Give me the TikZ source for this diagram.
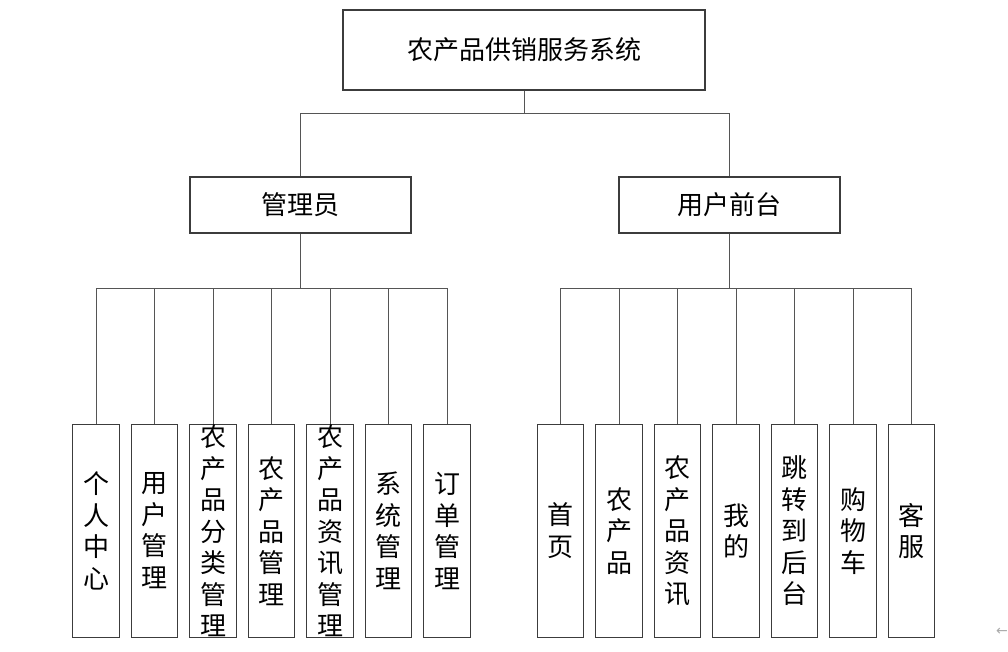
\documentclass[tikz,border=0pt]{standalone}
\usepackage{fontspec}
\setmainfont{Noto Sans CJK SC}
\newfontfamily\symfont{DejaVu Sans}
\definecolor{lc}{RGB}{85,85,85}
\definecolor{bc}{RGB}{60,60,60}
\definecolor{ac}{RGB}{170,170,170}
\tikzset{
  topbox/.style={draw=bc, line width=1.1pt, minimum width=362pt, minimum height=80pt, inner sep=0pt, font=\fontsize{26}{30}\selectfont},
  midbox/.style={draw=bc, line width=1.1pt, minimum width=221pt, minimum height=56pt, inner sep=0pt, font=\fontsize{26}{30}\selectfont},
  leafbox/.style={draw=bc, line width=1.1pt, minimum width=46.7pt, minimum height=213pt, inner sep=0pt},
  leaftext/.style={inner sep=0pt, align=center, font=\fontsize{26}{31.5}\selectfont},
  conn/.style={draw=lc, line width=1pt}
}
\begin{document}
\begin{tikzpicture}[x=1pt,y=-1pt]
\useasboundingbox (0,0) rectangle (1008,652);
\fill[white] (0,0) rectangle (1008,652);

\node[topbox] (top) at (524,50) {农产品供销服务系统};
\node[midbox] (adm) at (300.5,205) {管理员};
\node[midbox] (usr) at (729.5,205) {用户前台};

% left children
\node[leafbox] (a1) at (96,530.8) {};
\node[leafbox] (a2) at (154.5,530.8) {};
\node[leafbox] (a3) at (213,530.8) {};
\node[leafbox] (a4) at (271.5,530.8) {};
\node[leafbox] (a5) at (330,530.8) {};
\node[leafbox] (a6) at (388.5,530.8) {};
\node[leafbox] (a7) at (447,530.8) {};
\node[leaftext] (ta1) at (a1) {个\\人\\中\\心};
\node[leaftext] (ta2) at (a2) {用\\户\\管\\理};
\node[leaftext] (ta3) at (a3) {农\\产\\品\\分\\类\\管\\理};
\node[leaftext] (ta4) at (a4) {农\\产\\品\\管\\理};
\node[leaftext] (ta5) at (a5) {农\\产\\品\\资\\讯\\管\\理};
\node[leaftext] (ta6) at (a6) {系\\统\\管\\理};
\node[leaftext] (ta7) at (a7) {订\\单\\管\\理};

% right children
\node[leafbox] (b1) at (560.5,530.8) {};
\node[leafbox] (b2) at (619,530.8) {};
\node[leafbox] (b3) at (677.5,530.8) {};
\node[leafbox] (b4) at (736,530.8) {};
\node[leafbox] (b5) at (794.5,530.8) {};
\node[leafbox] (b6) at (853,530.8) {};
\node[leafbox] (b7) at (911.5,530.8) {};
\node[leaftext] (tb1) at (b1) {首\\页};
\node[leaftext] (tb2) at (b2) {农\\产\\品};
\node[leaftext] (tb3) at (b3) {农\\产\\品\\资\\讯};
\node[leaftext] (tb4) at (b4) {我\\的};
\node[leaftext] (tb5) at (b5) {跳\\转\\到\\后\\台};
\node[leaftext] (tb6) at (b6) {购\\物\\车};
\node[leaftext] (tb7) at (b7) {客\\服};

% connectors
\draw[conn] (top.south) -- ++(0,23) -| (adm.north);
\draw[conn] (top.south) -- ++(0,23) -| (usr.north);
\foreach \c in {a1,a2,a3,a4,a5,a6,a7}
  \draw[conn] (adm.south) -- ++(0,55) -| (\c.north);
\foreach \c in {b1,b2,b3,b4,b5,b6,b7}
  \draw[conn] (usr.south) -- ++(0,55) -| (\c.north);

\node[inner sep=0pt, text=ac, font=\symfont\fontsize{14}{16}\selectfont] (mark) at (1002,632) {←};
\end{tikzpicture}
\end{document}
